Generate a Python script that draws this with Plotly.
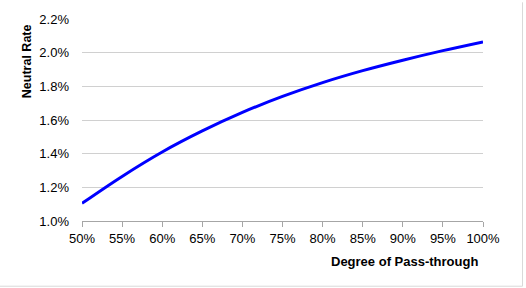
import plotly.graph_objects as go

pass_through = [50, 55, 60, 65, 70, 75, 80, 85, 90, 95, 100]
neutral_rate = [1.105, 1.265, 1.41, 1.535, 1.645, 1.74, 1.822, 1.893, 1.955, 2.012, 2.064]
x_ticks = [50, 55, 60, 65, 70, 75, 80, 85, 90, 95, 100]
x_tick_labels = ["50%", "55%", "60%", "65%", "70%", "75%", "80%", "85%", "90%", "95%", "100%"]
y_ticks = [1.0, 1.2, 1.4, 1.6, 1.8, 2.0, 2.2]
y_tick_labels = ["1.0%", "1.2%", "1.4%", "1.6%", "1.8%", "2.0%", "2.2%"]

FONT = "Arial, Liberation Sans, sans-serif"

fig = go.Figure()
fig.add_trace(go.Scatter(
    x=pass_through, y=neutral_rate, mode="lines",
    line=dict(color="#0000FF", width=3, shape="spline", smoothing=1.0),
    showlegend=False, hoverinfo="skip",
))

L, R, T, B = 82, 43, 15, 67
W, H = 526, 288
pw, ph = W - L - R, H - T - B

def px(x):
    return (x - L) / pw

def py(y):
    return (H - B - y) / ph

fig.update_layout(
    width=W, height=H,
    margin=dict(l=L, r=R, t=T, b=B, pad=0),
    paper_bgcolor="white", plot_bgcolor="white",
    font=dict(family=FONT, size=13, color="#000000"),
    xaxis=dict(
        range=[50, 100], tickvals=x_ticks, ticktext=x_tick_labels,
        showgrid=False, zeroline=False,
        showline=True, linecolor="#a6a6a6", linewidth=1,
        ticks="outside", ticklen=5, tickcolor="#a6a6a6",
        tickfont=dict(family=FONT, size=13, color="#000000"),
    ),
    yaxis=dict(
        range=[1.0, 2.2], tickvals=y_ticks, ticktext=y_tick_labels,
        showgrid=True, gridcolor="#d0d0d0", gridwidth=1,
        zeroline=False, showline=False, ticks="",
        ticklabelstandoff=12,
        tickfont=dict(family=FONT, size=13, color="#000000"),
    ),
    annotations=[
        dict(text="<b>Neutral Rate</b>", xref="paper", yref="paper",
             x=px(27), y=py(58), textangle=-90, showarrow=False,
             xanchor="center", yanchor="middle",
             font=dict(family=FONT, size=12.5, color="#000000")),
        dict(text="<b>Degree of Pass-through</b>", xref="paper", yref="paper",
             x=px(480), y=py(262), showarrow=False,
             xanchor="right", yanchor="middle",
             font=dict(family=FONT, size=13, color="#000000")),
    ],
    shapes=[
        dict(type="line", xref="paper", yref="paper",
             x0=px(522.5), x1=px(522.5), y0=py(-2), y1=py(287.5),
             line=dict(color="#d9d9d9", width=1)),
        dict(type="line", xref="paper", yref="paper",
             x0=px(-2), x1=px(522.5), y0=py(287.5), y1=py(287.5),
             line=dict(color="#d9d9d9", width=1)),
    ],
)

fig.write_html("out.html")
